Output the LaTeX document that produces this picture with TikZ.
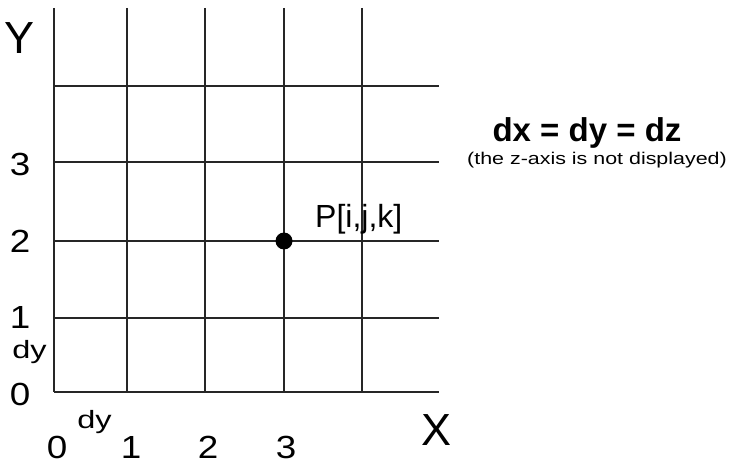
\documentclass[tikz,border=0pt]{standalone}
\usepackage{fontspec}
\setmainfont{Liberation Sans}
\usetikzlibrary{positioning}
\tikzset{
    gridline/.style = {line width=2pt,draw=black!85},
    axislabel/.style = {inner sep=0pt,anchor=base,font=\fontsize{45}{45}\selectfont},
    ticklabel/.style = {inner sep=0pt,anchor=base,xscale=1.15,font=\fontsize{32}{32}\selectfont},
    steplabel/.style = {inner sep=0pt,anchor=base west,xscale=1.3,font=\fontsize{25}{25}\selectfont},
    pointnode/.style = {circle,fill=black,inner sep=0pt,minimum size=17pt},
    pointlabel/.style = {inner sep=0pt,anchor=base west,font=\fontsize{32}{32}\selectfont},
    eqlabel/.style = {inner sep=0pt,anchor=base,font=\fontsize{33}{33}\selectfont\bfseries},
    notelabel/.style = {inner sep=0pt,anchor=base,xscale=1.26,font=\fontsize{17}{17}\selectfont}
}

\begin{document}
\begin{tikzpicture}[x=1pt,y=-1pt]
\useasboundingbox (0,0) rectangle (731,465);
%
\foreach \x in {54,127,205,284,362}
    \draw[gridline] (\x,8) -- (\x,392);
\foreach \y in {86,162,241,318,392}
    \draw[gridline] (54,\y) -- (439,\y);
%
\node[axislabel] at (20,54) (ylab) {Y};
\node[axislabel] at (437,445) (xlab) {X};
\node[ticklabel] at (20,176) (y3) {3};
\node[ticklabel] at (20,252) (y2) {2};
\node[ticklabel] at (20,328) (y1) {1};
\node[ticklabel] at (20,405) (y0) {0};
\node[steplabel] at (12,358) (dyl) {dy};
\node[ticklabel] at (57,458) (x0) {0};
\node[ticklabel] at (131,458) (x1) {1};
\node[ticklabel] at (208,458) (x2) {2};
\node[ticklabel] at (286,458) (x3) {3};
\node[steplabel] at (77,428) (dyb) {dy};
%
\node[pointnode] at (284,241) (p) {};
\node[pointlabel] at (315,228) (plab) {P[i,j,k]};
%
\node[eqlabel] at (587,142) (eq) {dx = dy = dz};
\node[notelabel] at (597,165) (note) {(the z-axis is not displayed)};
\end{tikzpicture}
\end{document}
